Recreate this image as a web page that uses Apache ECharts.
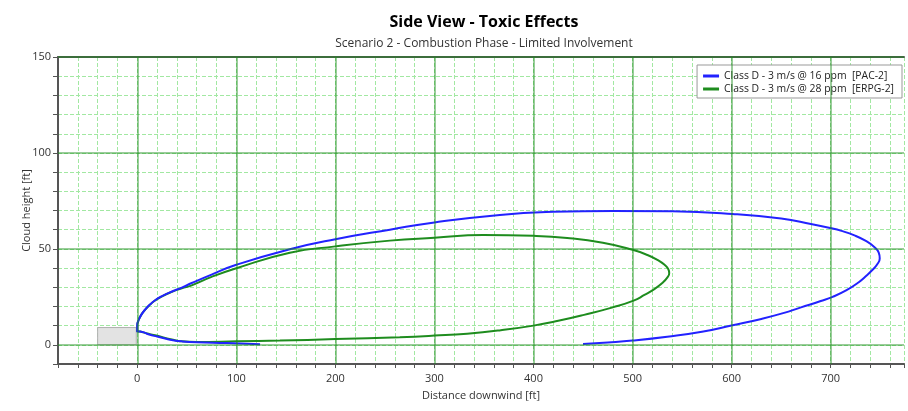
<!DOCTYPE html>
<html>
<head>
<meta charset="utf-8">
<title>Side View - Toxic Effects</title>
<script src="https://cdn.jsdelivr.net/npm/echarts@6/dist/echarts.min.js"></script>
<style>
    html, body { margin: 0; padding: 0; background: #fff; }
    #chart { width: 908px; height: 411px; }
</style>
</head>
<body>
<div id="chart"></div>
<script>
// PAC-2 cloud outline: starts at the far ground point, goes round the tip,
// back over the top to the source and out along the near ground edge
var pacX = [450, 475, 500, 535, 570, 601, 630, 652, 670, 690, 702, 716, 728, 736, 742, 747, 749.5, 748.5, 744, 736, 724, 710, 702, 680, 650, 601, 540, 480, 420, 366, 300, 255, 200, 154, 100, 75, 55, 45, 35, 25, 18, 12, 8, 4, 1, 0, 0, 3, 6, 12, 20, 28, 36, 45, 60, 90, 124];
var pacY = [0.4, 1.2, 2.2, 4.2, 6.8, 10.2, 13.5, 16.5, 19.5, 22.8, 25, 28.5, 32.5, 36, 39, 42, 45, 48, 51, 54, 57, 59.5, 60.6, 63, 65.8, 68.2, 69.6, 69.8, 69.3, 67.7, 63.8, 60, 55, 49.8, 41.7, 36.6, 32.2, 29.8, 27.8, 25.4, 23.2, 20.6, 18.4, 15.6, 12.4, 10.5, 7, 6.9, 6.6, 5.4, 4.3, 3.3, 2.4, 1.8, 1.3, 0.9, 0.3];

// ERPG-2 cloud outline: closed loop from the source, over the top and back along the bottom
var erpgX = [0, 1, 4, 8, 12, 18, 25, 35, 45, 55, 75, 100, 154, 200, 255, 300, 349, 400, 434, 470, 500, 515, 526, 532, 536, 537, 535, 530, 522, 512, 501, 480, 451, 425, 400, 367, 333, 300, 265, 200, 144, 100, 60, 45, 38, 30, 23, 15, 10, 6, 3, 0, 0];
var erpgY = [10.5, 12.4, 15.6, 18.3, 20.5, 23.1, 25.3, 27.6, 29.4, 31, 35.4, 39.9, 48, 51.3, 54.3, 55.8, 57.2, 56.8, 55.7, 53.2, 49.5, 46.8, 44, 41.8, 39.5, 37.3, 35, 32.2, 29, 26, 23, 19.5, 15.6, 12.5, 10, 7.6, 5.8, 4.8, 4, 3, 2.2, 1.8, 1.5, 1.8, 2.4, 3.3, 4.3, 5.3, 5.9, 6.5, 6.9, 7, 10.5];

// source box [x0, y0, x1, y1]
var sourceBox = [-40, 0, -1, 9];

// major grid lines
var xMajor = [0, 100, 200, 300, 400, 500, 600, 700];
var yMajor = [0, 50, 100, 150];

var pacName = 'Class D - 3 m/s @ 16 ppm  [PAC-2]';
var erpgName = 'Class D - 3 m/s @ 28 ppm  [ERPG-2]';

function zip(xs, ys) {
    var out = [];
    for (var i = 0; i < xs.length; i++) out.push([xs[i], ys[i]]);
    return out;
}

var font = '"Open Sans", "Noto Sans", sans-serif';
var majorColor = 'rgba(30,140,30,0.6)';
var minorColor = '#a2e8a2';

var chart = echarts.init(document.getElementById('chart'));

var option = {
    animation: false,
    textStyle: { fontFamily: font },
    graphic: [
        {
            type: 'text', x: 484, y: 22,
            style: {
                text: 'Side View - Toxic Effects', fill: '#000',
                font: 'bold 16px ' + font, align: 'center', verticalAlign: 'middle'
            }
        },
        {
            type: 'text', x: 484, y: 44,
            style: {
                text: 'Scenario 2 - Combustion Phase - Limited Involvement', fill: '#333',
                font: '12px ' + font, align: 'center', verticalAlign: 'middle'
            }
        }
    ],
    legend: {
        data: [pacName, erpgName],
        orient: 'vertical',
        right: 6,
        top: 65,
        padding: [5, 8, 3, 6],
        itemGap: 1,
        itemWidth: 16,
        itemHeight: 3,
        itemTextGap: 3,
        icon: 'rect',
        backgroundColor: '#fff',
        borderColor: '#999',
        borderWidth: 1,
        textStyle: { fontSize: 10.4, color: '#222', fontFamily: font, lineHeight: 12 }
    },
    grid: {
        left: 58,
        right: 4,
        top: 57,
        bottom: 47
    },
    xAxis: [
        {
            type: 'value',
            min: -80,
            max: 774,
            interval: 20,
            name: 'Distance downwind [ft]',
            nameLocation: 'middle',
            nameGap: 26,
            nameTextStyle: { fontSize: 11, color: '#333' },
            axisLine: { onZero: false, lineStyle: { color: '#555', width: 2 } },
            axisTick: { length: 4, lineStyle: { color: '#555' } },
            axisLabel: {
                fontSize: 11, color: '#333', margin: 9,
                formatter: function (v) { return v % 100 === 0 ? String(v) : ''; }
            },
            splitLine: { show: true, lineStyle: { color: minorColor, type: 'dashed', width: 1 } }
        },
        {
            type: 'value',
            position: 'top',
            min: -80,
            max: 774,
            interval: 20,
            axisLine: { show: true, onZero: false, lineStyle: { color: '#555', width: 2 } },
            axisTick: { show: false },
            axisLabel: { show: false },
            splitLine: { show: false }
        }
    ],
    yAxis: {
        type: 'value',
        min: -10,
        max: 150,
        interval: 10,
        name: 'Cloud height [ft]',
        nameLocation: 'middle',
        nameGap: 26,
        nameMoveOverlap: false,
        nameTextStyle: { fontSize: 11, color: '#333' },
        axisLine: { show: true, onZero: false, lineStyle: { color: '#555', width: 2 } },
        axisTick: { show: true, length: 5, lineStyle: { color: '#555' } },
        axisLabel: {
            fontSize: 11, color: '#333', margin: 7,
            formatter: function (v) { return v % 50 === 0 ? String(v) : ''; }
        },
        splitLine: { show: true, lineStyle: { color: minorColor, type: 'dashed', width: 1 } }
    },
    series: [
        {
            name: 'major-grid',
            type: 'line',
            data: [],
            z: 1,
            silent: true,
            markLine: {
                silent: true,
                symbol: 'none',
                label: { show: false },
                lineStyle: { color: majorColor, type: 'solid', width: 1.5 },
                data: xMajor.map(function (v) { return { xAxis: v }; })
                    .concat(yMajor.map(function (v) { return { yAxis: v }; }))
            }
        },
        {
            name: 'source',
            type: 'line',
            data: [],
            z: 2,
            silent: true,
            markArea: {
                silent: true,
                itemStyle: { color: '#e3e3e3', borderColor: '#b0b0b0', borderWidth: 1 },
                data: [[
                    { coord: [sourceBox[0], sourceBox[3]] },
                    { coord: [sourceBox[2], sourceBox[1]] }
                ]]
            }
        },
        {
            name: erpgName,
            type: 'line',
            data: zip(erpgX, erpgY),
            showSymbol: false,
            smooth: 0.5,
            z: 3,
            color: '#1e8c1e',
            lineStyle: { color: '#1e8c1e', width: 2 }
        },
        {
            name: pacName,
            type: 'line',
            data: zip(pacX, pacY),
            showSymbol: false,
            smooth: 0.5,
            z: 4,
            color: '#2222ff',
            lineStyle: { color: '#2222ff', width: 2 }
        }
    ]
};

chart.setOption(option);
</script>
</body>
</html>
